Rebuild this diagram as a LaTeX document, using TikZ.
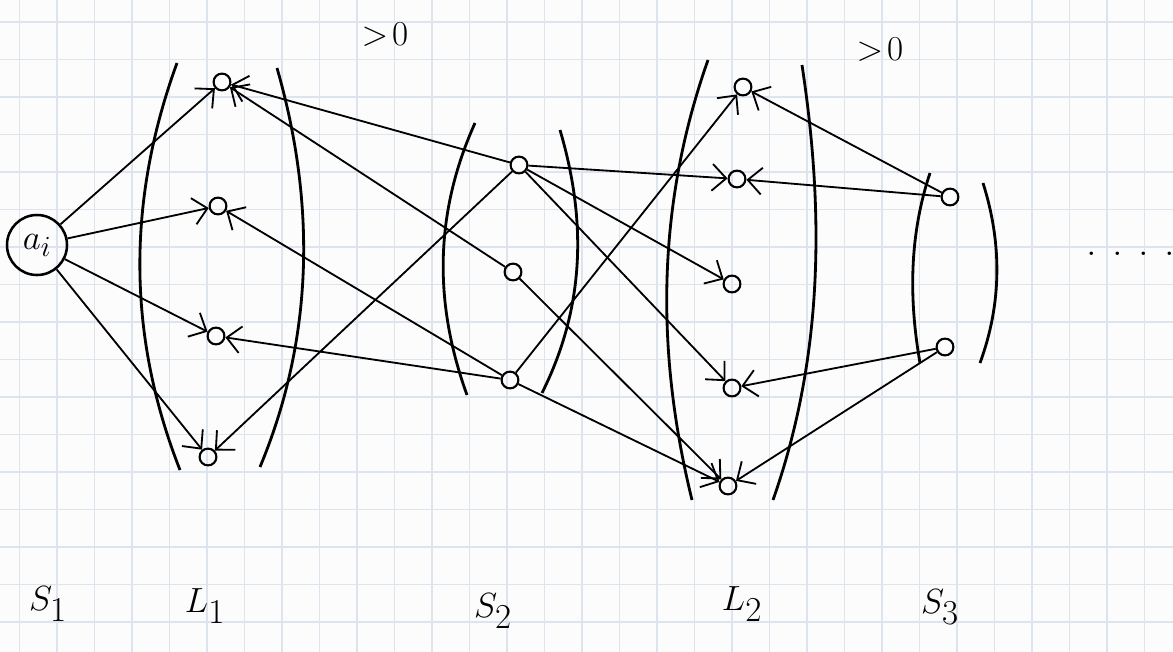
\documentclass[tikz,border=0pt]{standalone}
\usepackage{amssymb}
\usetikzlibrary{arrows.meta}
\definecolor{paper}{RGB}{252,252,253}
\definecolor{gridblue}{RGB}{222,228,238}

\begin{document}
\begin{tikzpicture}[
    x=0.025cm, y=-0.025cm,
    >={Straight Barb[length=10pt, width=19pt]},
    vtx/.style={circle, draw, line width=1.5pt, minimum size=4.2mm, inner sep=0pt},
    startvtx/.style={circle, draw, line width=1.8pt, minimum size=1.5cm, inner sep=0pt, font=\fontsize{30}{32}\selectfont},
    arrow/.style={->, line width=1.3pt},
    paren/.style={line width=2pt},
    gridline/.style={gridblue, line width=1pt},
    lbl/.style={font=\fontsize{42}{46}\selectfont},
    note/.style={font=\fontsize{28}{30}\selectfont}
]
% squared paper
\fill[paper] (0,0) rectangle (1173,652);
\useasboundingbox (0,0) rectangle (1173,652);
\foreach \gx in {19.5,57,...,1173} \draw[gridline] (\gx,0) -- (\gx,652);
\foreach \gy in {22,59.5,...,652} \draw[gridline] (0,\gy) -- (1173,\gy);

% start state and layers
\node[startvtx] (ai) at (37,245) {$a_i$};
\node[vtx] (l1a) at (222,82) {};
\node[vtx] (l1b) at (218,206) {};
\node[vtx] (l1c) at (216,336) {};
\node[vtx] (l1d) at (208,457) {};
\node[vtx] (s2a) at (519,165) {};
\node[vtx] (s2b) at (513,272) {};
\node[vtx] (s2c) at (510,380) {};
\node[vtx] (l2a) at (743,87) {};
\node[vtx] (l2b) at (737,179) {};
\node[vtx] (l2c) at (732,284) {};
\node[vtx] (l2d) at (732,388) {};
\node[vtx] (l2e) at (728,486) {};
\node[vtx] (s3a) at (950,197) {};
\node[vtx] (s3b) at (945,347) {};

% brackets round each layer
\draw[paren] (177,63) .. controls (127,200) and (127,335) .. (180,470);
\draw[paren] (277,68) .. controls (315,200) and (315,335) .. (260,467);
\draw[paren] (475,123) .. controls (434,214) and (434,304) .. (467,395);
\draw[paren] (560,130) .. controls (586,218) and (586,305) .. (542,393);
\draw[paren] (708,60) .. controls (656,207) and (656,353) .. (692,500);
\draw[paren] (802,65) .. controls (824,210) and (824,355) .. (773,500);
\draw[paren] (930,173) .. controls (909,236) and (909,300) .. (920,363);
\draw[paren] (983,183) .. controls (1002,243) and (1002,303) .. (980,363);

% transitions
\foreach \a/\b in {ai/l1a, ai/l1b, ai/l1c, ai/l1d,
    s2a/l1a, s2b/l1a, s2c/l1b, s2c/l1c, s2a/l1d,
    s2a/l2b, s2a/l2c, s2a/l2d, s2b/l2e, s2c/l2a, s2c/l2e,
    s3a/l2a, s3a/l2b, s3b/l2d, s3b/l2e}
    \draw[arrow] (\a) -- (\b);

% annotations
\node[note] (pos1) at (385,35) {$>\!0$};
\node[note] (pos2) at (880,50) {$>\!0$};
\node[font=\fontsize{30}{32}\selectfont] (more) at (1131,254) {.\hskip 11pt.\hskip 11pt.\hskip 11pt.};
\node[lbl] (ls1) at (48,604) {$S_1$};
\node[lbl] (ll1) at (205,606) {$L_1$};
\node[lbl] (ls2) at (493,611) {$S_2$};
\node[lbl] (ll2) at (742,604) {$L_2$};
\node[lbl] (ls3) at (940,607) {$S_3$};
\end{tikzpicture}
\end{document}
